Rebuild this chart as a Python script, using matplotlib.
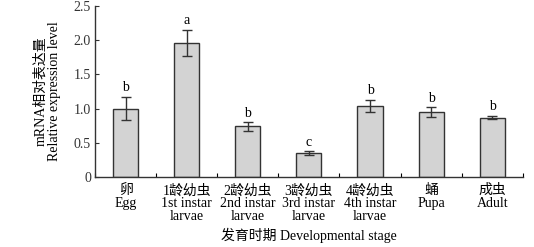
import matplotlib
matplotlib.use("Agg")
import matplotlib.pyplot as plt
import numpy as np
from matplotlib.ticker import FixedLocator, FuncFormatter

cats_cn = ["卵", "1龄幼虫", "2龄幼虫", "3龄幼虫", "4龄幼虫", "蛹", "成虫"]
cats_en = ["Egg", "1st instar\nlarvae", "2nd instar\nlarvae", "3rd instar\nlarvae",
           "4th instar\nlarvae", "Pupa", "Adult"]
values = [1.00, 1.96, 0.74, 0.35, 1.04, 0.95, 0.87]
errors = [0.17, 0.19, 0.06, 0.025, 0.085, 0.07, 0.02]
letters = ["b", "a", "b", "c", "b", "b", "b"]

plt.rcParams['font.family'] = ['Liberation Serif', 'Noto Sans CJK SC']
plt.rcParams['font.size'] = 10

fig = plt.figure(figsize=(5.34, 2.47), dpi=100)
ax = fig.add_axes([0.178, 0.283, 0.801, 0.693])

x = np.arange(len(values))
ax.bar(x, values, width=0.41, color="#d3d3d3", edgecolor="#333333", linewidth=1.0)
ax.errorbar(x, values, yerr=errors, fmt="none", ecolor="#333333", elinewidth=1.0,
            capsize=3.5, capthick=1.0)
for xi, v, e, l in zip(x, values, errors, letters):
    ax.text(xi, v + e + 0.04, l, ha="center", va="bottom", fontsize=10)

ax.set_xlim(-0.5, len(values) - 0.5)
ax.set_ylim(0, 2.5)
ax.set_yticks([0, 0.5, 1.0, 1.5, 2.0, 2.5])
ax.yaxis.set_major_formatter(FuncFormatter(lambda v, p: "0" if v == 0 else f"{v:.1f}"))
ax.tick_params(axis="y", direction="in", length=3, width=0.8, pad=3, colors="#333333",
               labelsize=10)

ax.xaxis.set_major_locator(FixedLocator(np.arange(len(values) + 1) - 0.5))
ax.xaxis.set_major_formatter(FuncFormatter(lambda v, p: ""))
ax.xaxis.set_minor_locator(FixedLocator(x))
ax.set_xticklabels([f"{c}\n{e}" for c, e in zip(cats_cn, cats_en)], minor=True,
                   linespacing=1.0, fontsize=10)
ax.tick_params(axis="x", which="major", direction="in", length=3, width=0.8)
ax.tick_params(axis="x", which="minor", length=0, pad=5)

for s in ["top", "right"]:
    ax.spines[s].set_visible(False)
for s in ["left", "bottom"]:
    ax.spines[s].set_linewidth(1.0)
    ax.spines[s].set_color("#333333")

ax.set_ylabel("mRNA相对表达量\nRelative expression level", fontsize=10, labelpad=9,
              linespacing=1.1)
ax.set_xlabel("发育时期 Developmental stage", fontsize=10, labelpad=3)

fig.savefig("out.png", dpi=100)
